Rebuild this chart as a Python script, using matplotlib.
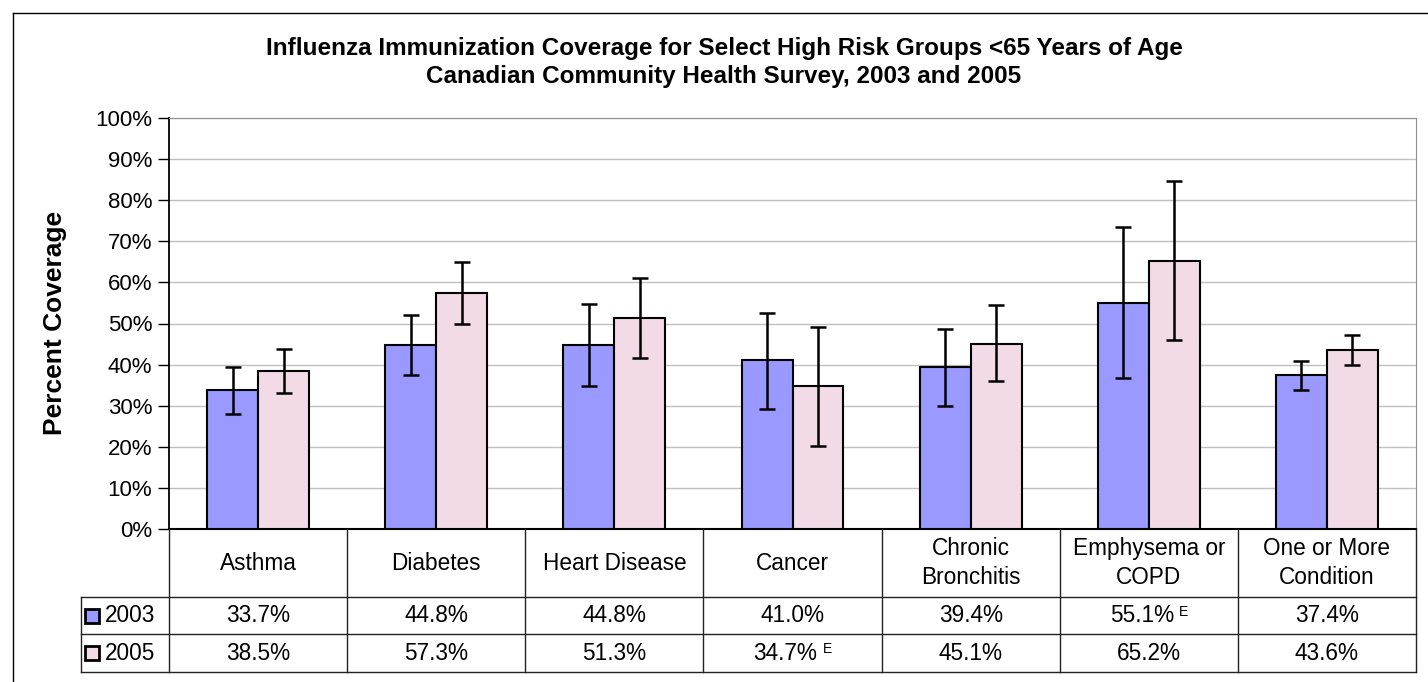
import matplotlib.pyplot as plt
import numpy as np
from matplotlib.patches import Rectangle
from matplotlib.lines import Line2D

plt.rcParams['font.family'] = ['Liberation Sans', 'DejaVu Sans']

# data
categories = ["Asthma", "Diabetes", "Heart Disease", "Cancer",
              "Chronic\nBronchitis", "Emphysema or\nCOPD", "One or More\nCondition"]
cov_2003 = [33.7, 44.8, 44.8, 41.0, 39.4, 55.1, 37.4]
cov_2005 = [38.5, 57.3, 51.3, 34.7, 45.1, 65.2, 43.6]
low_2003 = [28.0, 37.4, 34.7, 29.3, 30.0, 36.7, 33.7]
high_2003 = [39.3, 52.0, 54.7, 52.6, 48.6, 73.4, 40.9]
low_2005 = [33.2, 49.8, 41.5, 20.1, 35.9, 45.9, 40.0]
high_2005 = [43.8, 64.9, 61.0, 49.2, 54.4, 84.6, 47.3]
flag_2003 = ["", "", "", "", "", "E", ""]
flag_2005 = ["", "", "", "E", "", "", ""]
series = ["2003", "2005"]
colors = ["#9999FF", "#F2DAE6"]

W, H = 1428, 682
fig = plt.figure(figsize=(W / 100, H / 100), dpi=100)


def box(l, t, r, b):
    return [l / W, 1 - b / H, (r - l) / W, (b - t) / H]


ax = fig.add_axes(box(169, 118, 1416, 529))
x = np.arange(len(categories))
w = 0.286
ekw = dict(ecolor="black", elinewidth=1.8, capsize=5.5, capthick=1.8)
for i, (vals, lo, hi) in enumerate([(cov_2003, low_2003, high_2003),
                                     (cov_2005, low_2005, high_2005)]):
    v = np.array(vals)
    err = [v - np.array(lo), np.array(hi) - v]
    ax.bar(x + (i - 0.5) * w, v, w, color=colors[i], edgecolor="black",
           linewidth=1.5, yerr=err, error_kw=ekw, zorder=3)

ax.set_xlim(-0.5, len(categories) - 0.5)
ax.set_ylim(0, 100)
ax.set_yticks(range(0, 101, 10))
ax.set_yticklabels([f"{t}%" for t in range(0, 101, 10)], fontsize=16)
ax.tick_params(axis="y", length=8, width=1, pad=4)
ax.set_xticks([])
ax.grid(axis="y", color="#C0C0C0", linewidth=1, zorder=0)
ax.set_axisbelow(True)
ax.spines["left"].set_linewidth(1.3)
ax.spines["bottom"].set_linewidth(1.5)
ax.spines["top"].set_color("#909090")
ax.spines["right"].set_color("#909090")

fig.text(55 / W, 1 - 323 / H, "Percent Coverage", rotation=90, ha="center",
         va="center", fontsize=19, fontweight="bold")
fig.text(724 / W, 1 - 48 / H,
         "Influenza Immunization Coverage for Select High Risk Groups <65 Years of Age",
         ha="center", va="center", fontsize=17.5, fontweight="bold")
fig.text(724 / W, 1 - 77 / H, "Canadian Community Health Survey, 2003 and 2005",
         ha="center", va="center", fontsize=17.5, fontweight="bold")

# outer chart border (cut off at right/bottom)
fig.add_artist(Line2D([13 / W, 13 / W], [0, 1 - 13 / H], color="black", lw=1))
fig.add_artist(Line2D([13 / W, 1], [1 - 13 / H, 1 - 13 / H], color="black", lw=1))

# data table under the axis
lab_w = (169 - 80.7) / 178.1
tab = fig.add_axes(box(80.7, 529, 1416, 672))
x0 = -0.5 - lab_w
tab.set_xlim(x0, len(categories) - 0.5)
tab.set_ylim(143, 0)
tab.axis("off")
lc = "#222222"
for xb in np.arange(-0.5, len(categories), 1.0):
    tab.plot([xb, xb], [0, 143], color=lc, lw=1, clip_on=False)
tab.plot([x0, x0], [68, 143], color=lc, lw=1, clip_on=False)
for yb in (68, 105, 143):
    tab.plot([x0, len(categories) - 0.5], [yb, yb], color=lc, lw=1, clip_on=False)

for i, c in enumerate(categories):
    tab.text(i, 34, c, ha="center", va="center", fontsize=16.3, linespacing=1.35)

for r, (vals, flags, yc) in enumerate([(cov_2003, flag_2003, 86.5),
                                       (cov_2005, flag_2005, 124)]):
    tab.add_patch(Rectangle((x0 + 4.5 / 178.1, yc - 7), 14 / 178.1, 14,
                            facecolor=colors[r], edgecolor="black", lw=2,
                            clip_on=False))
    tab.text(x0 + 24 / 178.1, yc, series[r], ha="left", va="center", fontsize=16.3)
    for i, v in enumerate(vals):
        if flags[i]:
            tab.annotate(f"{v:.1f}%", (i, yc), xytext=(-7, 0), textcoords="offset pixels",
                         ha="center", va="center", fontsize=16.3)
            tab.annotate(flags[i], (i, yc), xytext=(35, 4), textcoords="offset pixels",
                         ha="center", va="center", fontsize=10)
        else:
            tab.text(i, yc, f"{v:.1f}%", ha="center", va="center", fontsize=16.3)

fig.savefig("out.png", dpi=100)
